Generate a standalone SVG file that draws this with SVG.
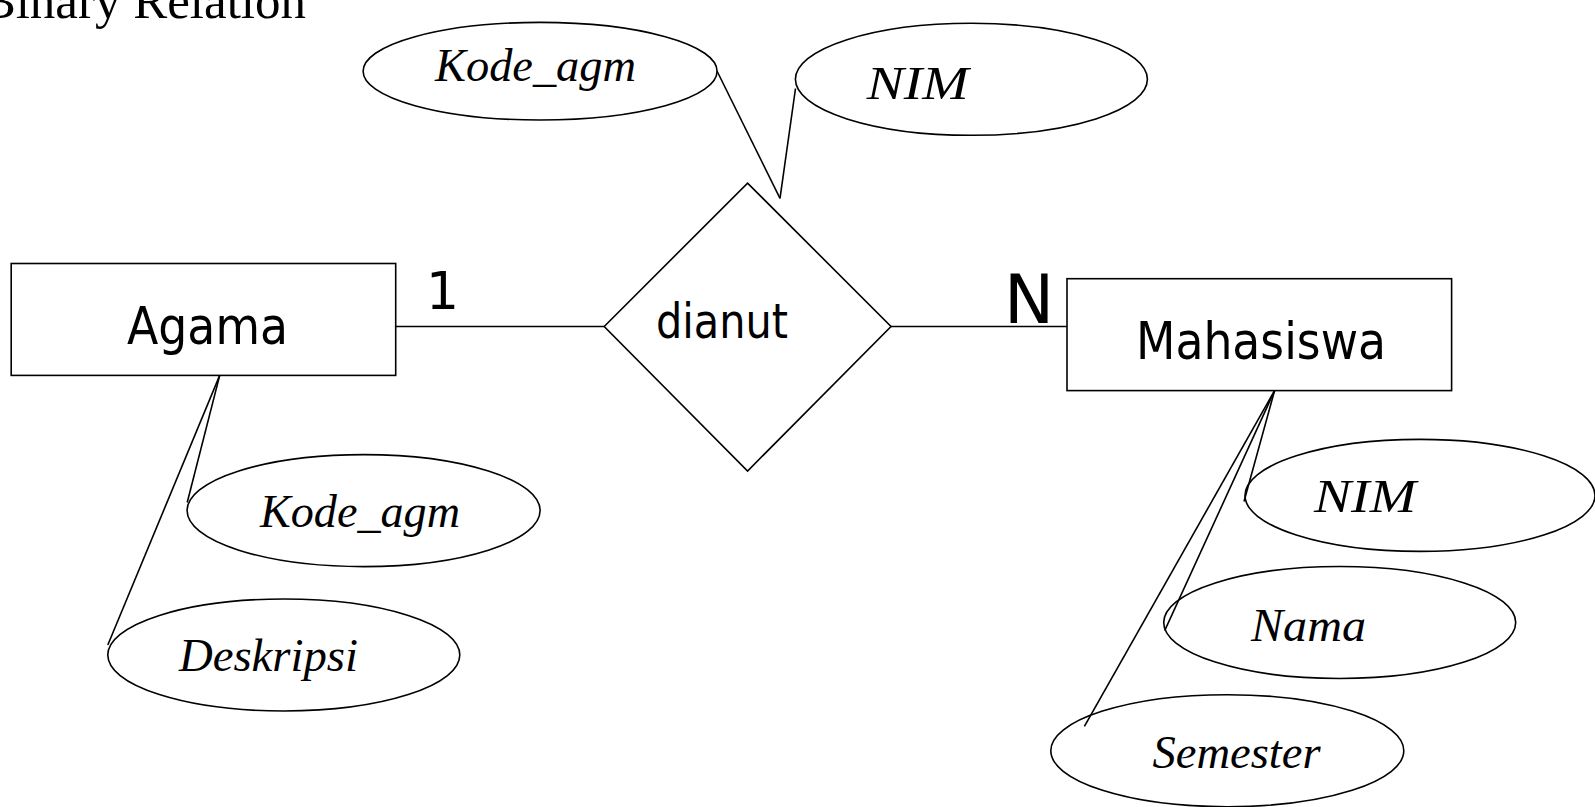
<svg xmlns="http://www.w3.org/2000/svg" width="1595" height="807" viewBox="0 0 1595 807">
<style>
.shape{fill:#fff;stroke:#000;stroke-width:1.6}
.conn{stroke:#000;stroke-width:1.6;fill:none}
.ent{font-family:"DejaVu Sans","Liberation Sans",sans-serif;fill:#000}
.attr{font-family:"Liberation Serif",serif;font-style:italic;font-size:46px;fill:#000}
.title{font-family:"Liberation Serif",serif;font-size:51px;fill:#000}
</style>
<rect width="1595" height="807" fill="#fff"/>
<text class="title" x="306" y="18" text-anchor="end">Binary Relation</text>
<g id="label-1"><text class="ent" x="426" y="309" font-size="52">1</text></g>
<g id="label-N"><text class="ent" x="1004" y="322.5" font-size="67">N</text></g>
<g id="agama">
<rect class="shape" x="11.2" y="263.5" width="384.5" height="111.9"/>
<text class="ent" x="127" y="343.8" font-size="52" textLength="161" lengthAdjust="spacingAndGlyphs">Agama</text>
</g>
<g id="dianut">
<polygon class="shape" points="604.2,326.5 747.6,183.1 891,326.5 747.6,471"/>
<text class="ent" x="656" y="338" font-size="48" textLength="132" lengthAdjust="spacingAndGlyphs">dianut</text>
</g>
<g id="mahasiswa">
<rect class="shape" x="1067" y="278.7" width="384.6" height="111.9"/>
<text class="ent" x="1136" y="358.5" font-size="52" textLength="250" lengthAdjust="spacingAndGlyphs">Mahasiswa</text>
</g>
<g id="attr-kode-agm-top">
<ellipse class="shape" cx="540.1" cy="71.2" rx="177" ry="48.8"/>
<text class="attr" x="435" y="81.4" textLength="201" lengthAdjust="spacingAndGlyphs">Kode_agm</text>
</g>
<g id="attr-nim-top">
<ellipse class="shape" cx="971.4" cy="79.3" rx="176" ry="56"/>
<text class="attr" x="866.7" y="98.7" textLength="102" lengthAdjust="spacingAndGlyphs">NIM</text>
</g>
<g id="attr-kode-agm">
<ellipse class="shape" cx="363.6" cy="510.6" rx="176.5" ry="56"/>
<text class="attr" x="260" y="527" textLength="200" lengthAdjust="spacingAndGlyphs">Kode_agm</text>
</g>
<g id="attr-deskripsi">
<ellipse class="shape" cx="283.8" cy="655" rx="176" ry="56"/>
<text class="attr" x="179" y="671" textLength="179" lengthAdjust="spacingAndGlyphs">Deskripsi</text>
</g>
<g id="attr-nim">
<ellipse class="shape" cx="1420" cy="495.4" rx="175" ry="56"/>
<text class="attr" x="1314" y="511.6" textLength="102" lengthAdjust="spacingAndGlyphs">NIM</text>
</g>
<g id="attr-nama">
<ellipse class="shape" cx="1339.7" cy="622.5" rx="176" ry="56"/>
<text class="attr" x="1251" y="641" textLength="115" lengthAdjust="spacingAndGlyphs">Nama</text>
</g>
<g id="attr-semester">
<ellipse class="shape" cx="1227.3" cy="750.7" rx="176.5" ry="56"/>
<text class="attr" x="1152.5" y="768" textLength="168" lengthAdjust="spacingAndGlyphs">Semester</text>
</g>
<g id="connectors">
<line class="conn" x1="395.7" y1="326.5" x2="604.2" y2="326.5"/>
<line class="conn" x1="891" y1="326.5" x2="1067" y2="326.5"/>
<line class="conn" x1="717" y1="71" x2="780" y2="198.4"/>
<line class="conn" x1="795.5" y1="88.5" x2="780" y2="198.4"/>
<line class="conn" x1="219.7" y1="375.4" x2="187.2" y2="502.5"/>
<line class="conn" x1="219.7" y1="375.4" x2="107.8" y2="645"/>
<line class="conn" x1="1274.6" y1="390.6" x2="1244" y2="501.5"/>
<line class="conn" x1="1274.6" y1="390.6" x2="1164.7" y2="630.7"/>
<line class="conn" x1="1274.6" y1="390.6" x2="1084.4" y2="726.3"/>
</g>
</svg>
